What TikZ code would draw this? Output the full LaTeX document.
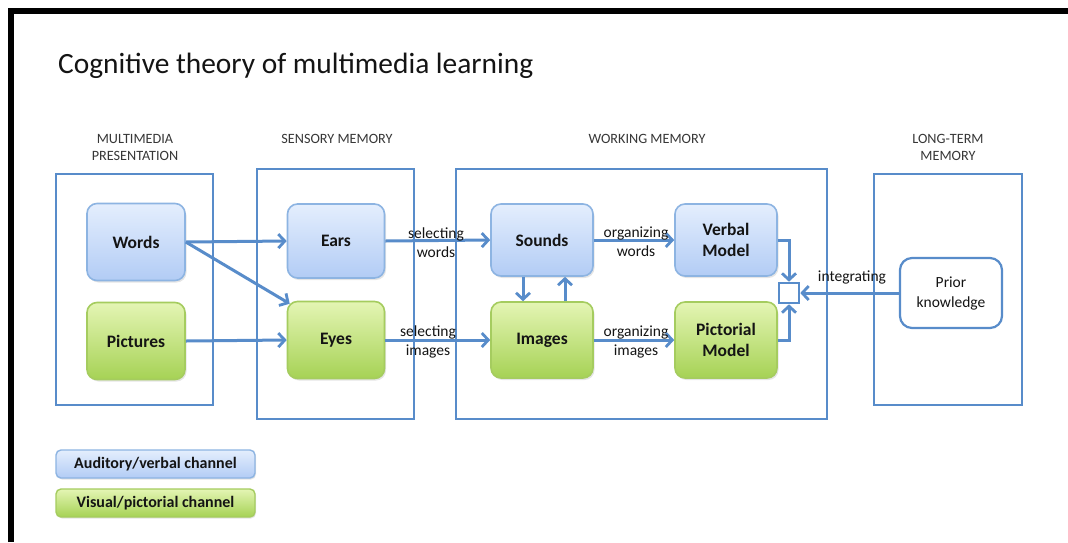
\documentclass[tikz,border=0pt]{standalone}
\usepackage{fontspec}
\setmainfont{Carlito}
\usetikzlibrary{arrows.meta,shadows}
\definecolor{frameblue}{RGB}{88,140,202}
\definecolor{bborder}{RGB}{141,180,226}
\definecolor{btop}{RGB}{228,238,253}
\definecolor{bbot}{RGB}{178,204,245}
\definecolor{gborder}{RGB}{165,204,95}
\definecolor{gtop}{RGB}{228,245,180}
\definecolor{gbot}{RGB}{166,210,85}
\definecolor{txt}{RGB}{20,20,20}
\tikzset{
  box/.style={rounded corners=10pt, line width=1.6pt, minimum width=#1, align=center,
    font=\fontsize{17.5}{21}\selectfont\bfseries, text=txt,
    drop shadow={shadow xshift=1.5pt, shadow yshift=-2pt, opacity=0.2}},
  bluebox/.style={box=100pt, draw=bborder, top color=btop, bottom color=bbot},
  greenbox/.style={box=100pt, draw=gborder, top color=gtop, bottom color=gbot},
  frame/.style={draw=frameblue, line width=2.8pt},
  flow/.style={draw=frameblue, line width=3pt, -{Straight Barb[length=6.5pt,width=14pt,line width=2.8pt]}},
  lbl/.style={font=\fontsize{15.5}{19}\selectfont, text=txt, align=center, inner sep=0pt},
  hdr/.style={font=\fontsize{14.2}{17}\selectfont, text=txt!85, align=center, inner sep=0pt},
  legend/.style={rounded corners=5pt, line width=1.4pt, minimum width=199pt, minimum height=28pt,
    font=\fontsize{16}{19}\selectfont\bfseries, text=txt,
    drop shadow={shadow xshift=1pt, shadow yshift=-1.5pt, opacity=0.2}}
}
\begin{document}
\begin{tikzpicture}[x=1pt,y=-1pt]
\useasboundingbox[fill=white] (0,0) rectangle (1068,542);
% black frame
\draw[line width=6.5pt, black] (11,542) -- (11,11) -- (1068,11);
% title
\node[anchor=base west, inner sep=0pt, font=\fontsize{29.4}{30}\selectfont, text=txt] (title) at (58,73) {Cognitive theory of multimedia learning};
% headers
\node[hdr] (h1) at (135,147.5) {MULTIMEDIA\\PRESENTATION};
\node[hdr] (h2) at (337,139) {SENSORY MEMORY};
\node[hdr] (h3) at (647,139) {WORKING MEMORY};
\node[hdr] (h4) at (948,147.5) {LONG-TERM\\MEMORY};
% frames
\draw[frame] (56,174) rectangle (213,405);
\draw[frame] (257,169) rectangle (414,419);
\draw[frame] (456,169) rectangle (827,419);
\draw[frame] (874,174) rectangle (1022,405);
% boxes
\node[bluebox, minimum width=98pt, minimum height=77pt] (words) at (136,242) {Words};
\node[greenbox, minimum width=98pt, minimum height=77pt] (pictures) at (136,341) {Pictures};
\node[bluebox, minimum width=97pt, minimum height=74pt] (ears) at (336,241) {Ears};
\node[greenbox, minimum width=97pt, minimum height=77pt] (eyes) at (336,340) {Eyes};
\node[bluebox, minimum width=102pt, minimum height=72pt] (sounds) at (542,240) {Sounds};
\node[greenbox, minimum width=102pt, minimum height=76pt] (images) at (542,340) {Images};
\node[bluebox, minimum width=102pt, minimum height=72pt] (verbal) at (726,240) {Verbal\\Model};
\node[greenbox, minimum width=102pt, minimum height=76pt] (pictorial) at (726,340) {Pictorial\\Model};
\node[draw=frameblue, line width=2.6pt, fill=white, minimum size=20pt, inner sep=0pt] (sq) at (789,293) {};
\node[draw=frameblue, line width=2.2pt, rounded corners=12pt, minimum width=102pt, minimum height=70pt,
  align=center, font=\fontsize{15.5}{20}\selectfont, text=txt] (prior) at (951,293) {Prior\\knowledge};
% arrows
\draw[flow] (words.east) -- (ears.west);
\draw[flow] (words.east) -- ([xshift=3pt,yshift=-3pt]eyes.north west);
\draw[flow] (pictures.east) -- (eyes.west);
\draw[flow] (ears.east) -- (sounds.west);
\draw[flow] (eyes.east) -- (images.west);
\draw[flow] (sounds.east) -- (verbal.west);
\draw[flow] (images.east) -- (pictorial.west);
\draw[flow] ([xshift=-19pt]sounds.south) -- ([xshift=-19pt]images.north);
\draw[flow] ([xshift=23pt]images.north) -- ([xshift=23pt]sounds.south);
\draw[flow] (verbal.east) -| (sq.north);
\draw[flow] (pictorial.east) -| (sq.south);
\draw[flow] (prior.west) -- (sq.east);
% labels
\node[lbl] (l1) at (436,243) {selecting\\words};
\node[lbl] (l2) at (428,342) {selecting\\images};
\node[lbl] (l3) at (636,242) {organizing\\words};
\node[lbl] (l4) at (636,342) {organizing\\images};
\node[lbl] (l5) at (852,277) {integrating};
% legend
\node[legend, draw=bborder, top color=btop, bottom color=bbot] (leg1) at (155.5,464) {Auditory/verbal channel};
\node[legend, draw=gborder, top color=gtop, bottom color=gbot] (leg2) at (155.5,503) {Visual/pictorial channel};
\end{tikzpicture}
\end{document}
